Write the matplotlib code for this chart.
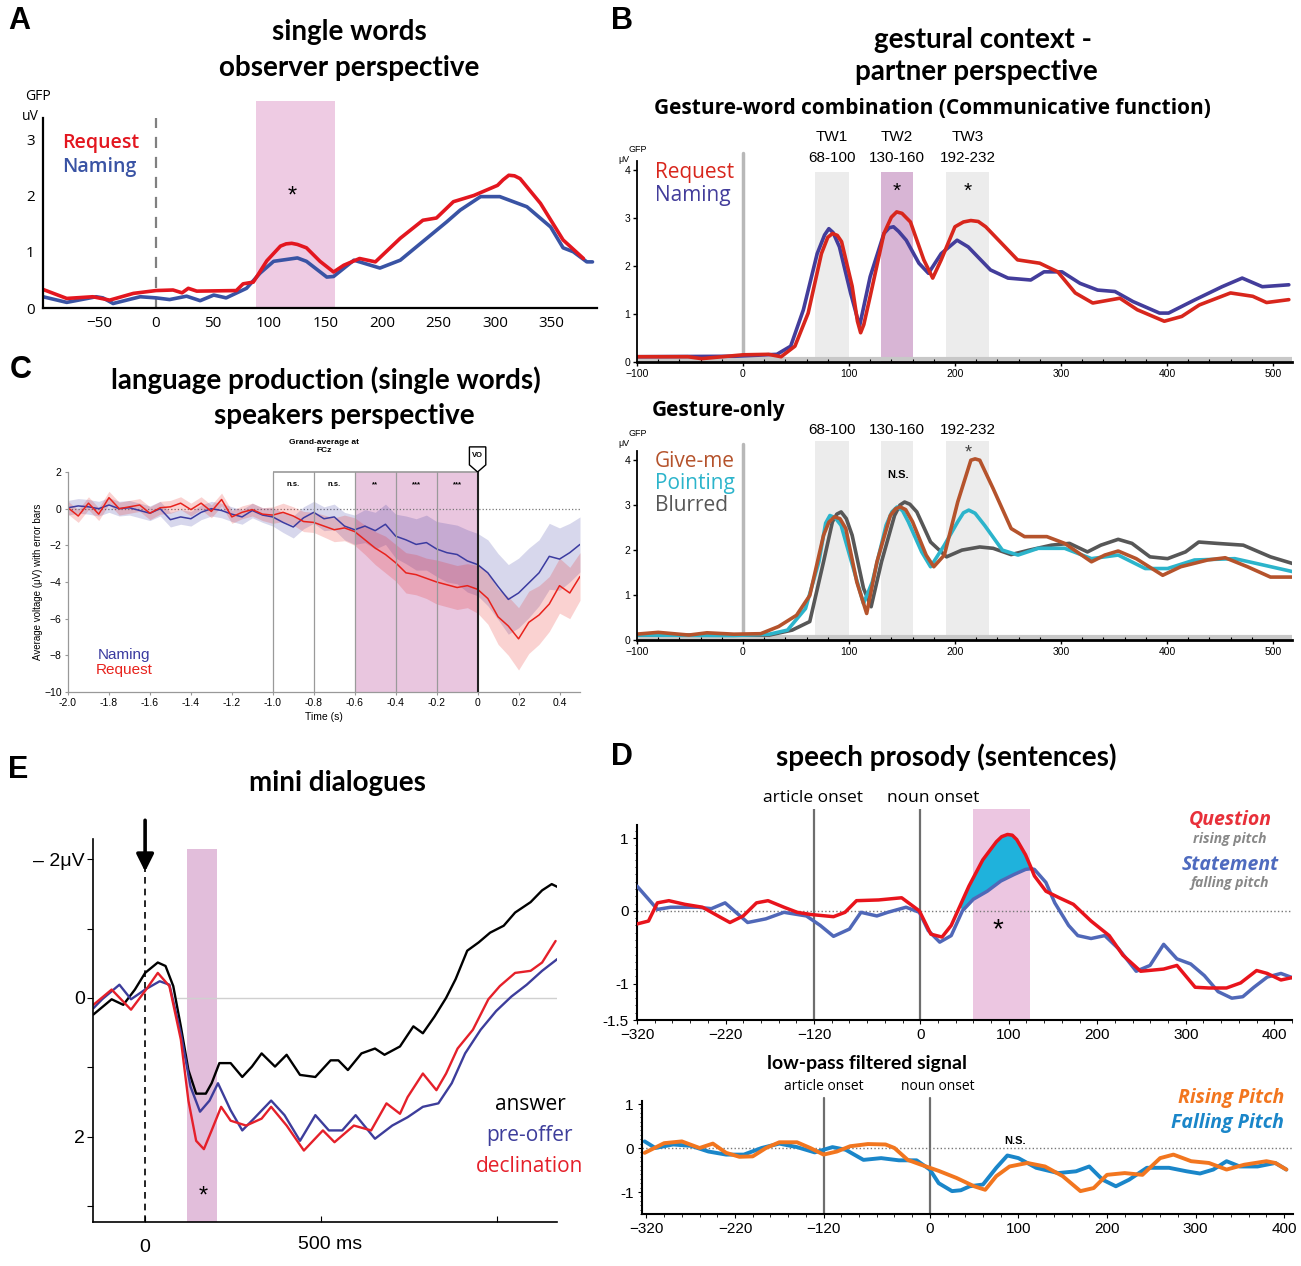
import numpy as np
import matplotlib
matplotlib.use('Agg')
import matplotlib.pyplot as plt
from matplotlib.patches import Polygon
from matplotlib.ticker import MultipleLocator, FixedLocator

# =============================================================================
# Data
# =============================================================================

# A - single words, observer perspective (GFP, uV)
a_req_x = [-100, -79, -56, -41, -20, 0, 15, 23, 28.5, 36, 71, 77, 86, 98, 110, 115, 120, 125, 133, 145, 157,
           166, 180, 194, 216, 236, 248, 263, 281, 302, 307, 312, 317, 322, 340, 360, 378]
a_req_y = [0.33, 0.17, 0.2, 0.14, 0.26, 0.31, 0.32, 0.27, 0.35, 0.3, 0.31, 0.43, 0.46, 0.84, 1.1, 1.14, 1.15, 1.13,
           1.07, 0.83, 0.64, 0.76, 0.88, 0.82, 1.24, 1.56, 1.6, 1.89, 2.0, 2.18, 2.28, 2.36, 2.35, 2.3, 1.86, 1.21, 0.88]
a_nam_x = [-100, -79, -53, -47, -38, -14, 0, 12, 27, 39, 51, 62, 80, 92, 104, 125, 133, 151, 157,
           175, 198, 216, 257, 269, 287, 304, 328, 349, 360, 369, 381, 386]
a_nam_y = [0.2, 0.1, 0.2, 0.18, 0.08, 0.2, 0.18, 0.15, 0.21, 0.13, 0.23, 0.18, 0.35, 0.62, 0.83, 0.89, 0.83, 0.55, 0.56,
           0.85, 0.71, 0.85, 1.53, 1.74, 1.98, 1.98, 1.8, 1.44, 1.07, 1.0, 0.82, 0.82]

# B top - gesture-word combination
b1_req_x = [-100, -52, -39, 0, 24, 36, 49, 61.5, 74, 80, 84.5, 89, 93, 103, 108, 111, 114, 120, 133, 140, 145, 150,
            158, 170.6, 179, 187, 200, 208, 215, 222, 229, 259, 280, 297, 313.5, 330, 355.6, 372, 397.5, 414, 430.6,
            460, 481, 494, 515]
b1_req_y = [0.11, 0.11, 0.07, 0.15, 0.16, 0.11, 0.33, 1.02, 2.26, 2.6, 2.68, 2.64, 2.51, 1.58, 0.85, 0.61, 0.78, 1.37,
            2.68, 3.02, 3.13, 3.1, 2.92, 2.13, 1.75, 2.13, 2.82, 2.92, 2.95, 2.93, 2.82, 2.13, 2.06, 1.88, 1.44, 1.23,
            1.33, 1.09, 0.85, 0.95, 1.19, 1.44, 1.37, 1.24, 1.3]
b1_nam_x = [-100, -7.5, 32, 45, 57, 70, 77, 81, 85, 91, 101.5, 110, 120, 133, 138, 142, 147, 154, 166, 175, 187, 202,
            212.5, 233.5, 250, 271.5, 284, 301, 318, 334.6, 351, 368, 393, 401.5, 426.7, 452, 471, 490, 515]
b1_nam_y = [0.11, 0.12, 0.16, 0.33, 1.09, 2.26, 2.65, 2.78, 2.7, 2.4, 1.44, 0.75, 1.78, 2.68, 2.8, 2.82, 2.72, 2.54,
            2.06, 1.85, 2.26, 2.54, 2.4, 1.92, 1.75, 1.71, 1.88, 1.88, 1.64, 1.5, 1.47, 1.26, 1.02, 1.02, 1.3, 1.57,
            1.75, 1.57, 1.61]
tw_edges = [(68, 100), (130, 160), (192, 232)]
tw_names = ['TW1', 'TW2', 'TW3']
tw_labels = ['68-100', '130-160', '192-232']

# B bottom - gesture only
b2_give_x = [-100.6, -80, -51, -34, -8.6, 16.7, 33.6, 50.5, 63, 76, 81, 86.3, 91.5, 97, 107.4, 116.7, 126.4, 139,
             144, 148.4, 153.5, 160, 172.8, 180, 190, 202.6, 215, 219, 223.4, 236, 253, 265.6, 286.7, 303.5, 328.8,
             341.4, 354, 371, 396, 413, 438.4, 455, 476, 497.7, 518.8]
b2_give_y = [0.13, 0.17, 0.11, 0.16, 0.13, 0.14, 0.3, 0.55, 0.99, 2.33, 2.62, 2.74, 2.7, 2.48, 1.29, 0.59, 1.74, 2.77,
             2.92, 2.96, 2.9, 2.63, 1.89, 1.63, 1.89, 3.07, 4.0, 4.03, 4.0, 3.37, 2.48, 2.3, 2.3, 2.15, 1.74,
             1.89, 1.98, 1.81, 1.44, 1.63, 1.78, 1.83, 1.63, 1.4, 1.4]
b2_point_x = [-100, -8.6, 25, 42, 59, 71.6, 78, 82, 87, 92.6, 105, 113.7, 122, 135, 140.5, 145.4, 150.5, 156, 168.6,
              177, 190, 202.6, 208, 213, 219, 228, 244.7, 259.5, 278.5, 303.5, 328.8, 354, 379.5, 400.6, 426, 464,
              485, 518.8]
b2_point_y = [0.11, 0.1, 0.13, 0.22, 0.7, 1.74, 2.6, 2.77, 2.72, 2.55, 1.52, 0.81, 1.29, 2.55, 2.85, 2.96, 2.88, 2.63,
              1.96, 1.63, 2.11, 2.63, 2.83, 2.89, 2.82, 2.55, 2.0, 1.89, 2.04, 2.04, 1.81, 1.89, 1.59, 1.59, 1.78,
              1.81, 1.7, 1.52]
b2_blur_x = [-100, 25, 46.4, 63, 76, 84.4, 88.5, 92.6, 97.5, 103, 113.7, 120.9, 130.7, 143, 148, 152.5, 157.5, 164,
             177, 192, 206.6, 223.4, 236, 253, 270, 291, 308, 325, 337.6, 354, 367, 384, 400.6, 417.5, 430, 447,
             472, 497.7, 518.8]
b2_blur_y = [0.11, 0.11, 0.22, 0.41, 1.74, 2.63, 2.8, 2.85, 2.7, 2.33, 1.15, 0.74, 1.74, 2.77, 3.0, 3.07, 3.02, 2.85,
             2.18, 1.85, 2.0, 2.07, 2.04, 1.9, 2.0, 2.11, 2.15, 1.96, 2.11, 2.24, 2.15, 1.85, 1.81, 1.96, 2.18, 2.15,
             2.11, 1.85, 1.7]

# C - language production, speaker perspective
c_time = np.round(np.arange(-2.0, 0.5001, 0.05), 2)
c_naming = [0.05, 0.15, 0.1, 0.0, 0.2, 0.0, 0.05, -0.1, -0.25, 0.0, -0.6, -0.45, -0.55, -0.2, 0.0, -0.1, -0.3,
            -0.45, -0.1, -0.35, -0.45, -0.75, -1.0, -0.5, -0.2, -0.55, -0.45, -0.95, -1.15, -0.95, -1.2, -0.85,
            -1.5, -1.7, -1.95, -1.85, -2.2, -2.4, -2.5, -2.85, -3.05, -3.5, -4.25, -4.95, -4.6, -4.05, -3.5,
            -2.6, -2.75, -2.4, -1.95]
c_request = [0.05, -0.4, 0.3, -0.3, 0.6, 0.0, 0.1, 0.2, -0.25, 0.05, 0.1, 0.3, -0.05, 0.3, -0.15, 0.5, -0.45,
             -0.2, -0.05, -0.3, -0.35, -0.2, -0.4, -0.7, -0.75, -0.95, -1.15, -1.05, -1.25, -1.7, -2.15, -2.5,
             -2.95, -3.5, -3.6, -3.8, -4.0, -4.15, -4.3, -4.2, -4.4, -4.9, -5.9, -6.4, -7.1, -6.2, -5.8, -5.2,
             -4.2, -4.6, -3.7]
c_naming_err = [0.4] * 20 + [0.5, 0.55, 0.6, 0.6, 0.6, 0.65, 0.7, 0.75,
                             0.8, 0.9, 1.0, 1.1, 1.2, 1.3, 1.4, 1.5, 1.5, 1.6, 1.6, 1.7,
                             1.7, 1.8, 1.8, 1.9, 1.9, 1.9, 1.8, 1.8, 1.7, 1.6, 1.5]
c_request_err = [0.35] * 20 + [0.45, 0.5, 0.5, 0.55, 0.55, 0.6, 0.65, 0.7,
                               0.75, 0.8, 0.9, 1.0, 1.0, 1.1, 1.1, 1.1, 1.2, 1.2, 1.2, 1.2,
                               1.3, 1.4, 1.5, 1.6, 1.7, 1.7, 1.6, 1.5, 1.5, 1.4, 1.3]
c_win_edges = [-1.0, -0.8, -0.6, -0.4, -0.2, 0.0]
c_win_labels = ['n.s.', 'n.s.', '**', '***', '***']
c_win_sig = [False, False, True, True, True]

# E - mini dialogues (negative up)
e_ans_x = [-147, -95, -62, -29, 0, 36, 58, 80, 101.5, 123, 145, 172.5, 189, 211, 243, 276, 303.5, 331, 369, 402,
           440, 483.6, 527, 549, 576, 614.6, 653, 680, 724, 762, 789, 822, 855, 882, 915, 947.6, 980, 1018.6,
           1051, 1095, 1127.7, 1155, 1171]
e_ans_y = [0.24, 0.02, 0.1, -0.12, -0.36, -0.51, -0.46, -0.17, 0.41, 1.04, 1.38, 1.38, 1.23, 0.94, 0.94, 1.14, 0.99, 0.8,
           0.99, 0.82, 1.11, 1.14, 0.9, 0.9, 1.04, 0.8, 0.73, 0.82, 0.7, 0.41, 0.51, 0.27, 0.0, -0.27, -0.68, -0.8,
           -0.94, -1.04, -1.23, -1.38, -1.55, -1.64, -1.6]
e_pre_x = [-147, -122, -73, -40, 0, 41.5, 69, 101.5, 129, 156, 183, 207, 243, 276, 309, 358, 396, 440, 483.6, 522,
           560, 598, 653, 702, 745.6, 789, 833, 871, 909, 953, 997, 1040.6, 1084, 1127.7, 1171]
e_pre_y = [0.15, 0.02, -0.19, 0.02, -0.12, -0.24, -0.19, 0.51, 1.28, 1.64, 1.48, 1.23, 1.62, 1.91, 1.74, 1.48, 1.69,
           2.06, 1.69, 1.91, 1.91, 1.69, 2.03, 1.84, 1.72, 1.57, 1.52, 1.23, 0.8, 0.46, 0.19, -0.02, -0.19, -0.39,
           -0.56]
e_dec_x = [-147, -95, -40, 0, 36, 69, 101.5, 123, 145, 167, 189, 216, 243, 287, 331, 358, 402, 451, 505, 538, 593,
           642, 685.6, 724, 745.6, 789, 827.5, 855, 887.6, 931, 975, 1007.6, 1051, 1095, 1127.7, 1166]
e_dec_y = [0.1, -0.12, 0.17, -0.1, -0.36, -0.17, 0.6, 1.48, 2.06, 2.18, 1.91, 1.57, 1.77, 1.84, 1.74, 1.57, 1.84, 2.2,
           1.91, 2.08, 1.84, 1.91, 1.52, 1.67, 1.43, 1.09, 1.33, 1.09, 0.73, 0.46, 0.02, -0.17, -0.36, -0.39, -0.51,
           -0.82]

# D top - speech prosody
d_q_x = [-320, -307, -297, -284, -266, -246, -225.5, -215, -200, -185, -172, -154, -139, -123.5, -98, -85, -72, -47,
         -21, -1, 12, 24.6, 35, 45, 55, 70.6, 86, 92, 98.6, 104, 109, 119, 125, 129, 142, 157, 173, 193, 213.5, 229,
         249, 275, 290, 310.6, 326, 346, 362, 380, 392, 407.5, 423]
d_q_y = [-0.18, -0.14, 0.11, 0.14, 0.09, 0.05, -0.09, -0.16, -0.07, 0.11, 0.14, 0.05, -0.02, -0.05, -0.08, -0.02, 0.14,
         0.15, 0.18, 0.0, -0.32, -0.36, -0.2, 0.07, 0.34, 0.7, 0.95, 1.02, 1.05, 1.04, 0.98, 0.77, 0.6, 0.48, 0.27,
         0.18, 0.09, -0.14, -0.34, -0.61, -0.83, -0.8, -0.75, -1.05, -1.06, -1.06, -0.99, -0.82, -0.86, -0.95, -0.91]
d_s_x = [-320, -307, -297, -282, -251, -236, -220.5, -195, -174.5, -154, -128.6, -113, -98, -80, -67, -49, -36.7,
         -16, -1, 9, 22, 35, 47.6, 60, 75.7, 91, 106, 119, 125, 129, 142, 152, 167.6, 178, 193, 208.5, 224, 244,
         259.6, 275, 290, 305.6, 321, 336.5, 352, 364.4, 377, 392, 407.5, 423]
d_s_y = [0.34, 0.16, 0.02, 0.05, 0.05, 0.03, 0.11, -0.16, -0.11, -0.02, -0.07, -0.2, -0.35, -0.25, -0.02, -0.07,
         -0.02, 0.05, -0.02, -0.27, -0.43, -0.34, 0.0, 0.16, 0.27, 0.41, 0.5, 0.57, 0.58, 0.57, 0.39, 0.11, -0.2,
         -0.34, -0.38, -0.34, -0.52, -0.83, -0.75, -0.46, -0.66, -0.73, -0.89, -1.11, -1.2, -1.18, -1.05, -0.91,
         -0.86, -0.93]

# D bottom - low-pass filtered signal
d_r_x = [-322, -300, -280, -260, -245, -230, -215, -200, -185, -170, -150, -135, -120, -105, -90, -70, -50, -40, -25,
         -10, 10, 30, 50, 62.5, 75, 90, 110, 130, 150, 170, 185, 200, 220, 240, 260, 275, 295, 315, 335, 355, 380,
         390, 402.5]
d_r_y = [-0.11, 0.11, 0.15, 0.0, 0.1, -0.11, -0.2, -0.19, 0.0, 0.13, 0.13, 0.0, -0.15, -0.08, 0.04, 0.09, 0.08, 0.0,
         -0.27, -0.38, -0.52, -0.68, -0.87, -0.95, -0.64, -0.42, -0.34, -0.42, -0.64, -0.98, -0.91, -0.61, -0.57,
         -0.61, -0.23, -0.15, -0.3, -0.34, -0.49, -0.38, -0.3, -0.34, -0.49]
d_f_x = [-322, -310, -290, -270, -250, -230, -210, -190, -170, -150, -130, -110, -95, -75, -55, -35, -15, 0, 10, 25,
         35, 45, 60, 75, 87.5, 100, 120, 145, 165, 180, 195, 210, 225, 245, 270, 290, 305, 320, 335, 350, 370, 390,
         402.5]
d_f_y = [0.15, 0.0, 0.08, 0.05, -0.08, -0.15, -0.15, 0.0, 0.1, 0.02, -0.1, 0.02, -0.04, -0.27, -0.23, -0.28, -0.28,
         -0.49, -0.8, -0.98, -0.96, -0.87, -0.83, -0.45, -0.17, -0.23, -0.45, -0.57, -0.53, -0.42, -0.72, -0.87,
         -0.72, -0.45, -0.45, -0.53, -0.58, -0.49, -0.3, -0.42, -0.42, -0.34, -0.49]

# =============================================================================
# Plotting
# =============================================================================
W, H = 1301, 1266
fig = plt.figure(figsize=(W / 100, H / 100), dpi=100, facecolor='w')
plt.rcParams['lines.solid_joinstyle'] = 'round'
plt.rcParams['lines.solid_capstyle'] = 'round'

TITLE = ['Lato', 'DejaVu Sans']
SANS = ['Open Sans', 'DejaVu Sans']
ARIAL = ['Liberation Sans', 'DejaVu Sans']
NARROW = ['Liberation Sans', 'DejaVu Sans']


def px_axes(l, t, r, b):
    return fig.add_axes([l / W, 1 - b / H, (r - l) / W, (b - t) / H])


def ftext(x, y, s, **kw):
    kw.setdefault('ha', 'center')
    kw.setdefault('va', 'center')
    return fig.text(x / W, 1 - y / H, s, **kw)


def style_ticks(ax, family, size):
    for lab in ax.get_xticklabels() + ax.get_yticklabels():
        lab.set_family(family)
        lab.set_fontsize(size)


# panel letters and titles
for lt, (x, y) in zip('ABCED', [(8, 21), (611, 21), (10, 370), (8, 770), (611, 757)]):
    ftext(x, y, lt, ha='left', fontsize=22, fontweight='bold', family=ARIAL)

ftext(349, 32, 'single words', fontsize=20, fontweight='bold', family=TITLE)
ftext(349, 68, 'observer perspective', fontsize=20, fontweight='bold', family=TITLE)
ftext(983, 40, 'gestural context -', fontsize=20, fontweight='bold', family=TITLE)
ftext(976, 72, 'partner perspective', fontsize=20, fontweight='bold', family=TITLE)
ftext(932, 108, 'Gesture-word combination (Communicative function)', fontsize=15, fontweight='bold', family=SANS)
ftext(652, 410, 'Gesture-only', ha='left', fontsize=15, fontweight='bold', family=SANS)
ftext(326, 380, 'language production (single words)', fontsize=20, fontweight='bold', family=TITLE)
ftext(344, 416, 'speakers perspective', fontsize=20, fontweight='bold', family=TITLE)
ftext(337, 783, 'mini dialogues', fontsize=20, fontweight='bold', family=TITLE)
ftext(946, 757, 'speech prosody (sentences)', fontsize=20, fontweight='bold', family=TITLE)
ftext(867, 1063, 'low-pass filtered signal', fontsize=14, fontweight='bold', family=TITLE)

# ---------------- A ----------------
RED_A, BLUE_A = '#e3161f', '#3953a4'
axA = px_axes(43, 101, 597, 308)
axA.set_xlim(-100, 390)
axA.set_ylim(0, 3.68)
axA.axvspan(88, 158, color='#eecbe3', lw=0)
axA.axvline(0, ymax=3.37 / 3.68, color='#808080', ls=(0, (5, 4)), lw=1.6)
axA.plot(a_nam_x, a_nam_y, color=BLUE_A, lw=2.6)
axA.plot(a_req_x, a_req_y, color=RED_A, lw=2.6)
for s in ['top', 'right']:
    axA.spines[s].set_visible(False)
axA.spines['left'].set_bounds(0, 3.37)
axA.spines['left'].set_linewidth(1.6)
axA.spines['bottom'].set_linewidth(1.6)
axA.set_xticks([-50, 0, 50, 100, 150, 200, 250, 300, 350])
axA.set_yticks([0, 1, 2, 3])
axA.tick_params(length=0, pad=6)
style_ticks(axA, SANS, 11)
axA.text(-83, 2.93, 'Request', color=RED_A, fontsize=14, fontweight='semibold', family=SANS, va='center')
axA.text(-83, 2.5, 'Naming', color=BLUE_A, fontsize=14, fontweight='semibold', family=SANS, va='center')
axA.text(120, 1.99, '*', fontsize=17, ha='center', va='center', family=ARIAL)
ftext(38, 97, 'GFP', fontsize=10, family=SANS)
ftext(30, 117, 'uV', fontsize=10, family=SANS)


def style_b(ax, top):
    ax.set_xlim(-100, 518)
    ax.set_ylim(0, top)
    for s in ['top', 'right']:
        ax.spines[s].set_visible(False)
    ax.spines['left'].set_bounds(0, 4.2)
    ax.spines['left'].set_linewidth(1.3)
    ax.spines['bottom'].set_linewidth(2)
    ax.axvline(0, ymax=4.35 / top, color='#b8b8b8', lw=2.5, zorder=1)
    ax.axhline(0.06, color='#c8c8c8', lw=3, zorder=1)
    ax.set_xticks([-100, 0, 100, 200, 300, 400, 500])
    ax.set_yticks([0, 1, 2, 3, 4])
    ax.xaxis.set_minor_locator(MultipleLocator(20))
    ax.tick_params(which='major', length=3, width=1, direction='out', pad=2)
    ax.tick_params(which='minor', length=2, width=0.8, direction='in')
    style_ticks(ax, NARROW, 7.5)


# ---------------- B top ----------------
RED_B, BLUE_B = '#d8261c', '#433d9b'
axB1 = px_axes(637, 151, 1292, 362)
style_b(axB1, 4.4)
for (a, b), nm, lab in zip(tw_edges, tw_names, tw_labels):
    col = '#d8b5d5' if nm == 'TW2' else '#ececec'
    axB1.axvspan(a, b, ymax=3.96 / 4.4, color=col, lw=0, zorder=0)
    axB1.text((a + b) / 2, 4.69, nm, ha='center', va='center', fontsize=11, family=NARROW)
    axB1.text((a + b) / 2, 4.25, lab, ha='center', va='center', fontsize=11, family=NARROW)
axB1.plot(b1_nam_x, b1_nam_y, color=BLUE_B, lw=2.6)
axB1.plot(b1_req_x, b1_req_y, color=RED_B, lw=2.6)
axB1.text(145, 3.55, '*', ha='center', va='center', fontsize=15, family=ARIAL)
axB1.text(212, 3.55, '*', ha='center', va='center', fontsize=15, family=ARIAL)
axB1.text(-83, 3.96, 'Request', color=RED_B, fontsize=15, family=SANS, va='center')
axB1.text(-83, 3.48, 'Naming', color=BLUE_B, fontsize=15, family=SANS, va='center')
ftext(638, 150, 'GFP', fontsize=6.5, family=NARROW)
ftext(624, 159, 'μV', fontsize=6.5, family=NARROW)

# ---------------- B bottom ----------------
GIVE, POINT, BLUR = '#b5532c', '#2cb4cb', '#575757'
axB2 = px_axes(637, 440, 1292, 640)
style_b(axB2, 4.45)
for (a, b), lab in zip(tw_edges, tw_labels):
    axB2.axvspan(a, b, ymax=4.42 / 4.45, color='#ececec', lw=0, zorder=0)
    axB2.text((a + b) / 2, 4.67, lab, ha='center', va='center', fontsize=11, family=NARROW)
axB2.plot(b2_blur_x, b2_blur_y, color=BLUR, lw=2.6)
axB2.plot(b2_point_x, b2_point_y, color=POINT, lw=2.6)
axB2.plot(b2_give_x, b2_give_y, color=GIVE, lw=2.6)
axB2.text(213, 4.16, '*', ha='center', va='center', fontsize=13, family=ARIAL, color='#444')
axB2.text(146, 3.67, 'N.S.', ha='center', va='center', fontsize=8, fontweight='bold', family=NARROW)
axB2.text(-83, 3.98, 'Give-me', color=GIVE, fontsize=15, family=SANS, va='center')
axB2.text(-83, 3.49, 'Pointing', color=POINT, fontsize=15, family=SANS, va='center')
axB2.text(-83, 3.0, 'Blurred', color=BLUR, fontsize=15, family=SANS, va='center')
ftext(638, 434, 'GFP', fontsize=6.5, family=NARROW)
ftext(624, 443, 'μV', fontsize=6.5, family=NARROW)

# ---------------- C ----------------
RED_C, BLUE_C = '#e8221c', '#3b3ba0'
axC = px_axes(68, 472, 580, 692)
axC.set_xlim(-2.0, 0.5)
axC.set_ylim(-10, 2)
for (a, b), sig in zip(zip(c_win_edges[:-1], c_win_edges[1:]), c_win_sig):
    if sig:
        axC.axvspan(a, b, color='#e9c6df', lw=0, zorder=0)
for i, e in enumerate(c_win_edges):
    last = i == len(c_win_edges) - 1
    axC.axvline(e, color='#222' if last else '#9a9a9a', lw=1.5 if last else 0.9, zorder=3)
axC.hlines(2, c_win_edges[0], c_win_edges[-1], color='#9a9a9a', lw=1.2, zorder=3, clip_on=False)
for (a, b), lab in zip(zip(c_win_edges[:-1], c_win_edges[1:]), c_win_labels):
    axC.text((a + b) / 2, 1.3, lab, ha='center', va='center', fontsize=5.5, fontweight='bold', family=ARIAL)
axC.axhline(0, color='#777', ls=':', lw=0.9, zorder=1)
cn = np.array(c_naming)
cr = np.array(c_request)
axC.fill_between(c_time, cn - np.array(c_naming_err), cn + np.array(c_naming_err), color=BLUE_C, alpha=0.2, lw=0)
axC.fill_between(c_time, cr - np.array(c_request_err), cr + np.array(c_request_err), color=RED_C, alpha=0.2, lw=0)
axC.plot(c_time, c_naming, color=BLUE_C, lw=1.1)
axC.plot(c_time, c_request, color=RED_C, lw=1.1)
for s in ['top', 'right']:
    axC.spines[s].set_visible(False)
for s in ['left', 'bottom']:
    axC.spines[s].set_color('#999')
    axC.spines[s].set_linewidth(0.9)
cx = [-2.0, -1.8, -1.6, -1.4, -1.2, -1.0, -0.8, -0.6, -0.4, -0.2, 0.0, 0.2, 0.4]
axC.set_xticks(cx, ['%g' % v if v in (0.0, 0.2, 0.4) else '%.1f' % v for v in cx])
axC.set_yticks([2, 0, -2, -4, -6, -8, -10])
axC.tick_params(length=2.5, color='#999', pad=2)
style_ticks(axC, ARIAL, 7.5)
axC.set_xlabel('Time (s)', fontsize=7.5, family=ARIAL, labelpad=3)
axC.set_ylabel('Average voltage (μV) with error bars', fontsize=7, family=ARIAL, labelpad=1)
axC.text(-1.727, -8.0, 'Naming', color=BLUE_C, fontsize=11, family=ARIAL, ha='center', va='center')
axC.text(-1.727, -8.8, 'Request', color=RED_C, fontsize=11, family=ARIAL, ha='center', va='center')
axC.text(-0.75, 3.4, 'Grand-average at\nFCz', ha='center', va='center', fontsize=6, fontweight='bold',
         family=NARROW, linespacing=1.3)
axC.add_patch(Polygon([(-0.04, 3.37), (0.04, 3.37), (0.04, 2.39), (0, 2.0), (-0.04, 2.39)], closed=True,
                      facecolor='w', edgecolor='k', lw=1, clip_on=False, zorder=5))
axC.text(0, 2.9, 'VO', ha='center', va='center', fontsize=5.5, fontweight='bold', family=ARIAL, zorder=6)

# ---------------- E ----------------
BLUE_E, RED_E = '#3d3d9b', '#e5202a'
axE = px_axes(93, 839, 557, 1222)
axE.set_xlim(-148, 1170)
axE.set_ylim(3.23, -2.29)
axE.axvspan(120, 205, ymax=(3.23 + 2.14) / 5.52, color='#e2bedb', lw=0, zorder=0)
axE.axhline(0, xmin=(90 + 148) / 1318, color='#d0d0d0', lw=1, zorder=0)
axE.axvline(0, ymax=(3.23 + 1.9) / 5.52, color='k', ls=(0, (4, 3)), lw=1.2)
axE.annotate('', xy=(0, -1.82), xytext=(0, -2.56), annotation_clip=False,
             arrowprops=dict(arrowstyle='-|>', color='k', lw=2.6, mutation_scale=26, shrinkA=0, shrinkB=0))
axE.plot(e_ans_x, e_ans_y, color='k', lw=1.7)
axE.plot(e_pre_x, e_pre_y, color=BLUE_E, lw=1.7)
axE.plot(e_dec_x, e_dec_y, color=RED_E, lw=1.7)
for s in ['top', 'right']:
    axE.spines[s].set_visible(False)
axE.spines['left'].set_linewidth(1.2)
axE.spines['bottom'].set_linewidth(1.2)
axE.set_yticks([-2, -1, 0, 1, 2, 3], ['\u2013 2μV', '', '0', '', '2', ''])
axE.set_xticks([0, 500, 1000], ['0', '', ''])
axE.tick_params(axis='y', length=4, direction='out', pad=2)
axE.tick_params(axis='x', length=4, direction='in', pad=12)
style_ticks(axE, ARIAL, 14)
axE.annotate('500 ms', xy=(500, 0), xycoords=('data', 'axes fraction'), xytext=(-17, -10),
             textcoords='offset points', ha='left', va='top', fontsize=14, family=ARIAL)
axE.text(164, 2.86, '*', ha='center', va='center', fontsize=17, family=ARIAL)
ftext(530, 1104, 'answer', fontsize=15, family=SANS, color='k')
ftext(530, 1136, 'pre-offer', fontsize=15, family=SANS, color=BLUE_E)
ftext(530, 1167, 'declination', fontsize=15, family=SANS, color=RED_E)

# ---------------- D top ----------------
RED_D, BLUE_D = '#e8141c', '#5068b8'
axD1 = px_axes(637, 809, 1292, 1020)
axD1.set_xlim(-320, 420)
axD1.set_ylim(-1.5, 1.4)
axD1.axvspan(60, 124, color='#ecc6e1', lw=0, zorder=0)
for v in [-120, 0]:
    axD1.axvline(v, ymax=1.0, color='#6e6e6e', lw=1.6, zorder=1)
axD1.axhline(0, color='#777', ls=':', lw=1, zorder=1)
qx, qy = np.array(d_q_x), np.array(d_q_y)
sx, sy = np.array(d_s_x), np.array(d_s_y)
mq = (qx >= 45) & (qx <= 126)
ms = (sx >= 45) & (sx <= 126)
axD1.fill(np.r_[qx[mq], sx[ms][::-1]], np.r_[qy[mq], sy[ms][::-1]], color='#1fb2dc', lw=0, zorder=2)
axD1.plot(d_s_x, d_s_y, color=BLUE_D, lw=2.5, zorder=3)
axD1.plot(d_q_x, d_q_y, color=RED_D, lw=2.5, zorder=4)
axD1.text(88, -0.27, '*', ha='center', va='center', fontsize=20, family=ARIAL)
axD1.text(-121, 1.55, 'article onset', ha='center', va='center', fontsize=12.5, family=SANS)
axD1.text(15, 1.55, 'noun onset', ha='center', va='center', fontsize=12.5, family=SANS)
axD1.text(350, 1.25, 'Question', ha='center', va='center', fontsize=14, fontweight='bold', style='italic',
          family=SANS, color='#e8303a')
axD1.text(350, 0.99, 'rising pitch', ha='center', va='center', fontsize=10, fontweight='bold', style='italic',
          family=SANS, color='#888')
axD1.text(350, 0.63, 'Statement', ha='center', va='center', fontsize=14, fontweight='bold', style='italic',
          family=SANS, color='#4e6bbf')
axD1.text(350, 0.38, 'falling pitch', ha='center', va='center', fontsize=10, fontweight='bold', style='italic',
          family=SANS, color='#888')


def style_d(ax, ytop, yt):
    for s in ['top', 'right']:
        ax.spines[s].set_visible(False)
    ax.spines['left'].set_bounds(-1.5, ytop)
    ax.spines['left'].set_linewidth(1.5)
    ax.spines['bottom'].set_linewidth(1.5)
    ax.set_xticks([-320, -220, -120, 0, 100, 200, 300, 400])
    ax.set_yticks(yt, ['%g' % v for v in yt])
    ax.xaxis.set_minor_locator(MultipleLocator(20))
    ax.yaxis.set_minor_locator(FixedLocator(np.arange(-1.5, ytop + 1e-6, 0.1)))
    ax.tick_params(which='major', length=3, pad=3)
    ax.tick_params(which='minor', length=1.8)
    style_ticks(ax, ARIAL, 11)


style_d(axD1, 1.18, [1, 0, -1, -1.5])

# ---------------- D bottom ----------------
ORANGE, BLUE_F = '#f2761f', '#1a86c9'
axD2 = px_axes(642, 1093, 1293, 1214)
axD2.set_xlim(-325, 410)
axD2.set_ylim(-1.5, 1.25)
for v in [-120, 0]:
    axD2.axvline(v, ymax=(1.14 + 1.5) / 2.75, color='#6e6e6e', lw=1.6, zorder=1)
axD2.axhline(0, color='#777', ls=':', lw=1, zorder=1)
axD2.plot(d_f_x, d_f_y, color=BLUE_F, lw=2.8)
axD2.plot(d_r_x, d_r_y, color=ORANGE, lw=2.8)
axD2.text(-120, 1.39, 'article onset', ha='center', va='center', fontsize=10, family=SANS)
axD2.text(9, 1.39, 'noun onset', ha='center', va='center', fontsize=10, family=SANS)
axD2.text(96, 0.16, 'N.S.', ha='center', va='center', fontsize=8, fontweight='bold', family=NARROW)
axD2.text(400, 1.14, 'Rising Pitch', ha='right', va='center', fontsize=14, fontweight='bold', style='italic',
          family=SANS, color=ORANGE)
axD2.text(400, 0.57, 'Falling Pitch', ha='right', va='center', fontsize=14, fontweight='bold', style='italic',
          family=SANS, color=BLUE_F)
style_d(axD2, 1.06, [1, 0, -1])

plt.savefig('out.png', dpi=100, facecolor='w')
